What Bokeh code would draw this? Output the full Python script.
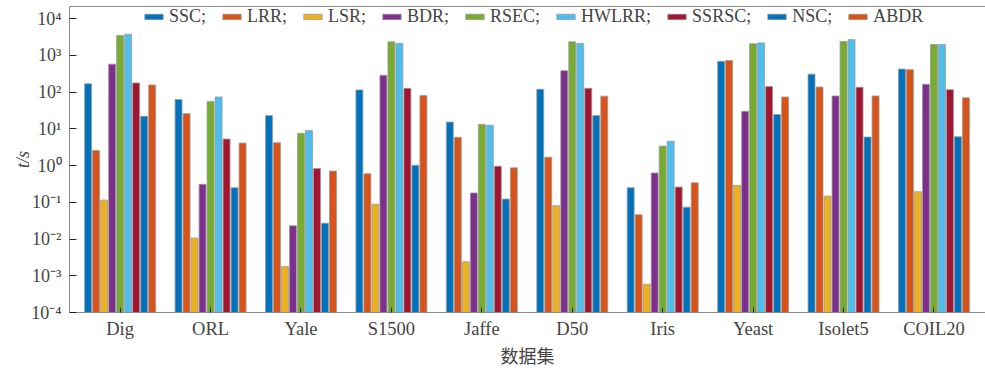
import numpy as np
from bokeh.plotting import figure
from bokeh.models import (Range1d, FixedTicker, CustomJSTickFormatter, Legend, LegendItem,
                          LinearAxis, ColumnDataSource)
from bokeh.transform import dodge
from bokeh.embed import file_html
from bokeh.resources import INLINE

# ---------------- data ----------------
datasets = ["Dig", "ORL", "Yale", "S1500", "Jaffe", "D50", "Iris", "Yeast", "Isolet5", "COIL20"]
methods = ["SSC", "LRR", "LSR", "BDR", "RSEC", "HWLRR", "SSRSC", "NSC", "ABDR"]
legend_labels = ["SSC;", "LRR;", "LSR;", "BDR;", "RSEC;", "HWLRR;", "SSRSC;", "NSC;", "ABDR"]

SSC = [170, 63, 23, 115, 15.3, 120, 0.25, 690, 310, 425]
LRR = [2.6, 26, 4.2, 0.6, 5.9, 1.7, 0.046, 730, 138, 410]
LSR = [0.115, 0.0107, 0.0018, 0.089, 0.0024, 0.081, 0.00059, 0.29, 0.148, 0.195]
BDR = [580, 0.31, 0.023, 288, 0.18, 385, 0.63, 30, 79, 164]
RSEC = [3470, 56, 7.6, 2350, 13.2, 2350, 3.4, 2080, 2400, 1990]
HWLRR = [3800, 74, 9.1, 2130, 12.6, 2130, 4.6, 2200, 2700, 1990]
SSRSC = [178, 5.3, 0.83, 127, 0.96, 127, 0.26, 142, 136, 117]
NSC = [22, 0.25, 0.027, 1.02, 0.123, 23, 0.074, 24.7, 6.0, 6.1]
ABDR = [157, 4.1, 0.71, 81, 0.87, 78, 0.34, 74, 79, 70]

y_ticks = [1e-4, 1e-3, 1e-2, 1e-1, 1e0, 1e1, 1e2, 1e3, 1e4]
y_tick_labels = ["10⁻⁴", "10⁻³", "10⁻²", "10⁻¹", "10⁰", "10¹", "10²", "10³", "10⁴"]

colors = ["#0072BD", "#D95319", "#EDB120", "#7E2F8E", "#77AC30",
          "#4DBEEE", "#A2142F", "#0072BD", "#D95319"]

series = [SSC, LRR, LSR, BDR, RSEC, HWLRR, SSRSC, NSC, ABDR]

# ---------------- figure ----------------
SERIF = "Liberation Serif"
p = figure(width=985, height=370, y_axis_type="log",
           x_range=Range1d(-0.56, 9.57), y_range=Range1d(1e-4, 10 ** 4.333),
           output_backend="svg", toolbar_location=None,
           min_border_left=69, min_border_right=0, min_border_top=6, min_border_bottom=57)
p.grid.visible = False
p.outline_line_color = None
p.background_fill_color = "white"

src = ColumnDataSource(dict(x=list(range(len(datasets))),
                            **{m: s for m, s in zip(methods, series)}))

pitch = 0.0885
bw = 0.077
renderers = []
for i, (m, c) in enumerate(zip(methods, colors)):
    r = p.vbar(x=dodge("x", (i - 4) * pitch, range=p.x_range), top=m, bottom=1e-4,
               width=bw, source=src, fill_color=c, line_color="#9a9a9a", line_width=0.8)
    renderers.append(r)

legend = Legend(items=[LegendItem(label=l, renderers=[r]) for l, r in zip(legend_labels, renderers)],
                orientation="horizontal", location=(73, 285),
                glyph_width=23, glyph_height=7, label_standoff=4, spacing=14,
                padding=1, margin=0, border_line_color=None,
                background_fill_alpha=0,
                label_text_font=SERIF, label_text_font_size="18px", label_height=18)
p.add_layout(legend, "center")

# x axis
xa = p.xaxis[0]
xa.ticker = FixedTicker(ticks=list(range(len(datasets))))
xa.major_label_overrides = {i: d for i, d in enumerate(datasets)}
xa.major_label_text_font = SERIF
xa.major_label_text_font_size = "18.5px"
xa.major_label_standoff = 6
xa.major_tick_in = 5
xa.major_tick_out = 0
xa.major_tick_line_color = "#222222"
xa.minor_tick_line_color = None
xa.axis_line_color = "#8c8c8c"
xa.axis_label = "数据集"
xa.axis_label_text_font = "Noto Sans CJK SC"
xa.axis_label_text_font_size = "18px"
xa.axis_label_text_font_style = "normal"
xa.axis_label_standoff = 0

# y axis
ya = p.yaxis[0]
ya.ticker = FixedTicker(ticks=y_ticks)
ya.formatter = CustomJSTickFormatter(args=dict(tvals=y_ticks, tlabels=y_tick_labels), code="""
    const lt = Math.log10(tick);
    for (let i = 0; i < tvals.length; i++) {
        if (Math.abs(Math.log10(tvals[i]) - lt) < 1e-6) return tlabels[i];
    }
    return "";
""")
ya.major_label_text_font = SERIF
ya.major_label_text_font_size = "18px"
ya.major_label_standoff = 8
ya.major_tick_in = 7
ya.major_tick_out = 0
ya.major_tick_line_color = "#222222"
ya.minor_tick_line_color = None
ya.axis_line_color = "#8c8c8c"
ya.axis_label = "t/s"
ya.axis_label_text_font = SERIF
ya.axis_label_text_font_size = "18px"
ya.axis_label_text_font_style = "italic"
ya.axis_label_standoff = -5

# top frame line
top = LinearAxis(ticker=FixedTicker(ticks=[]), major_label_text_font_size="0px",
                 axis_line_color="#8c8c8c", major_tick_line_color=None,
                 minor_tick_line_color=None, major_label_standoff=0)
p.add_layout(top, "above")

open("out.html", "w").write(file_html(p, INLINE))
